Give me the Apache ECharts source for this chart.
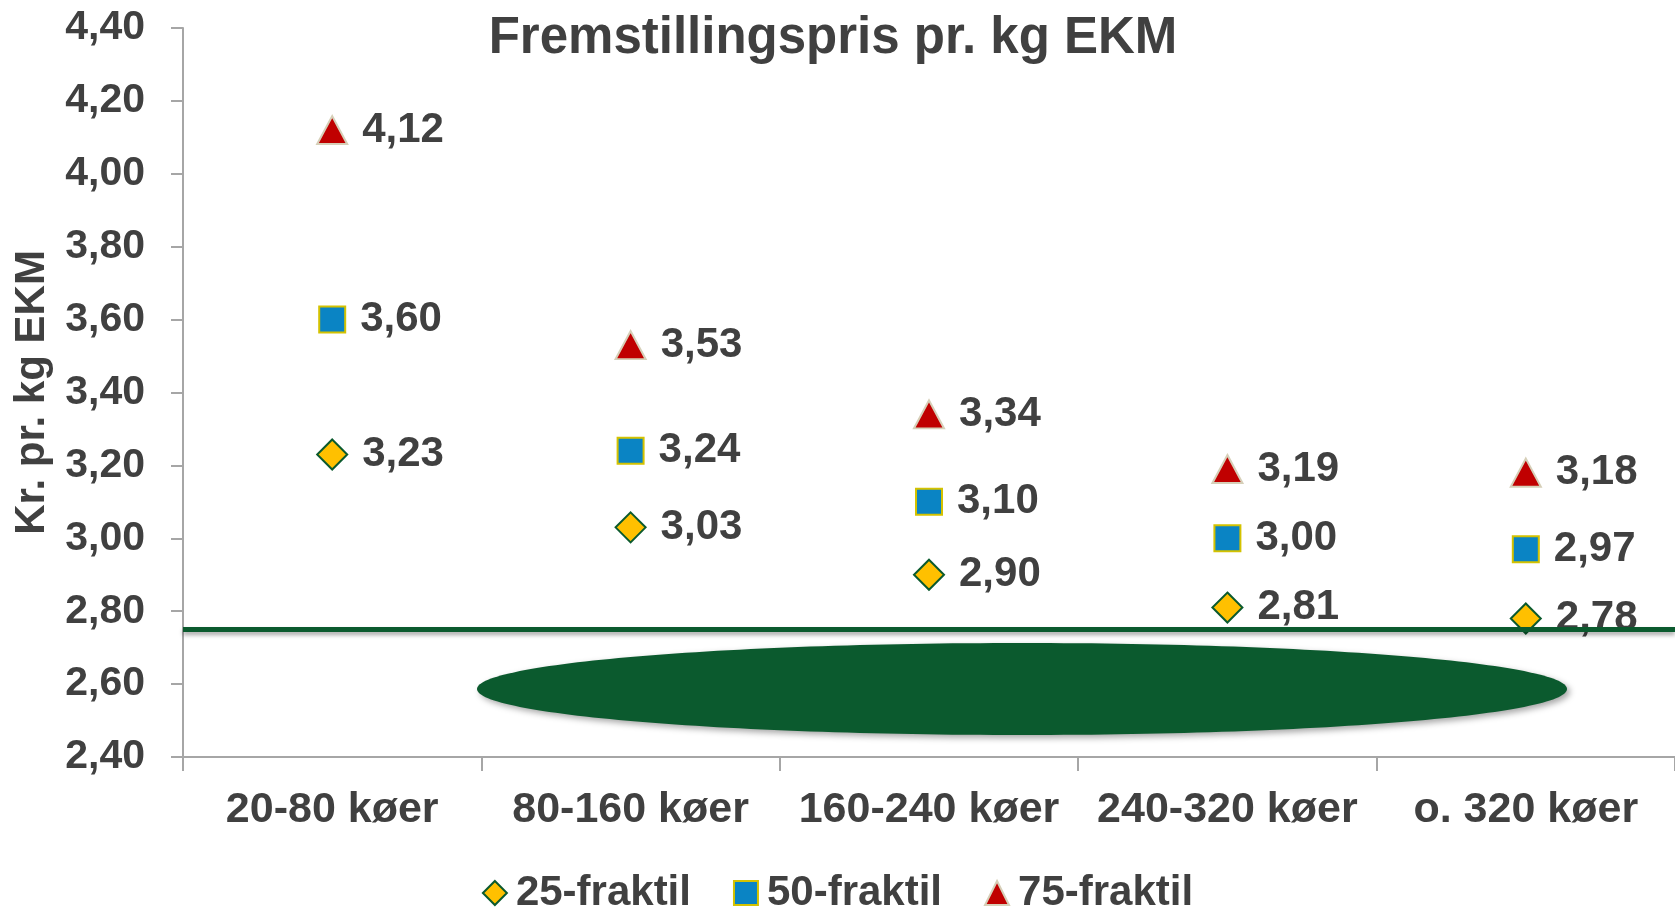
<!DOCTYPE html>
<html>
<head>
<meta charset="utf-8">
<title>Fremstillingspris pr. kg EKM</title>
<script src="https://cdn.jsdelivr.net/npm/echarts@6/dist/echarts.min.js"></script>
<style>
  html, body { margin: 0; padding: 0; background: #fff; }
  #chart { width: 1675px; height: 908px; }
</style>
</head>
<body>
<div id="chart"></div>
<script>
// Besætningsstørrelser
const categories = ['20-80 køer', '80-160 køer', '160-240 køer', '240-320 køer', 'o. 320 køer'];

// Fraktiler, kr. pr. kg EKM
const fraktil25 = [3.23, 3.03, 2.90, 2.81, 2.78];
const fraktil50 = [3.60, 3.24, 3.10, 3.00, 2.97];
const fraktil75 = [4.12, 3.53, 3.34, 3.19, 3.18];

// Vandret referencelinje
const refLine = 2.75;

const TEXT = '#404040';
const FONT = '"Liberation Sans", Arial, sans-serif';

const fmt = v => Number(v).toFixed(2).replace('.', ',');

const chart = echarts.init(document.getElementById('chart'));

function dotSeries(name, data, symbol, size, fill, border) {
    return {
        name: name,
        type: 'scatter',
        data: data,
        symbol: symbol,
        symbolSize: size,
        itemStyle: { color: fill, borderColor: border, borderWidth: 2, opacity: 1 },
        label: {
            show: true,
            position: 'right',
            distance: 14,
            color: TEXT,
            fontFamily: FONT,
            fontWeight: 'bold',
            fontSize: 42,
            formatter: p => fmt(p.value)
        },
        emphasis: { disabled: true },
        z: 3
    };
}

const option = {
    backgroundColor: '#fff',
    animation: false,
    textStyle: { fontFamily: FONT, color: TEXT },
    title: {
        text: 'Fremstillingspris pr. kg EKM',
        left: 828,
        textAlign: 'center',
        top: 8,
        textStyle: { color: TEXT, fontFamily: FONT, fontWeight: 'bold', fontSize: 51 }
    },
    legend: {
        top: 867,
        left: 'center',
        itemWidth: 24,
        itemHeight: 24,
        itemGap: 42,
        textStyle: {
            color: TEXT, fontFamily: FONT, fontWeight: 'bold', fontSize: 42,
            padding: [0, 0, 0, 4]
        },
        data: ['25-fraktil', '50-fraktil', '75-fraktil']
    },
    grid: { left: 183, right: 0, top: 28, bottom: 151 },
    xAxis: {
        type: 'category',
        data: categories,
        boundaryGap: true,
        axisLine: { lineStyle: { color: '#a6a6a6', width: 2 } },
        axisTick: { show: true, length: 14, lineStyle: { color: '#a6a6a6', width: 2 } },
        axisLabel: {
            color: TEXT, fontFamily: FONT, fontWeight: 'bold', fontSize: 43,
            margin: 32, interval: 0
        },
        splitLine: { show: false }
    },
    yAxis: {
        type: 'value',
        min: 2.4,
        max: 4.4,
        interval: 0.2,
        name: 'Kr. pr. kg EKM',
        nameLocation: 'middle',
        nameGap: 130,
        nameTextStyle: { color: TEXT, fontFamily: FONT, fontWeight: 'bold', fontSize: 42 },
        axisLine: { show: true, lineStyle: { color: '#a6a6a6', width: 2 } },
        axisTick: { show: true, length: 12, lineStyle: { color: '#a6a6a6', width: 2 } },
        axisLabel: {
            color: TEXT, fontFamily: FONT, fontWeight: 'bold', fontSize: 41,
            margin: 38, formatter: v => fmt(v)
        },
        splitLine: { show: false }
    },
    series: [
        dotSeries('25-fraktil', fraktil25, 'diamond', [30, 30], '#ffc000', '#0b5a2e'),
        dotSeries('50-fraktil', fraktil50, 'rect', [26, 26], '#0a84c4', '#d4c200'),
        dotSeries('75-fraktil', fraktil75, 'triangle', [30, 28], '#c00000', '#d6cfb8'),
        {
            name: 'ref',
            type: 'line',
            data: [],
            z: 10,
            markLine: {
                silent: true,
                symbol: ['none', 'none'],
                label: { show: false },
                lineStyle: {
                    color: '#0b5a2e', width: 5, type: 'solid',
                    shadowColor: 'rgba(0,0,0,0.35)', shadowBlur: 4, shadowOffsetY: 3
                },
                data: [{ yAxis: refLine }]
            }
        }
    ]
};

chart.setOption(option);

// Grøn ellipse under linjen (dekoration)
chart.setOption({
    graphic: [{
        type: 'ellipse',
        z: 1,
        shape: { cx: 1022, cy: 689, rx: 545, ry: 46 },
        style: {
            fill: '#0b5a2e',
            shadowColor: 'rgba(0,0,0,0.35)', shadowBlur: 6, shadowOffsetX: 3, shadowOffsetY: 3
        }
    }]
});
</script>
</body>
</html>
